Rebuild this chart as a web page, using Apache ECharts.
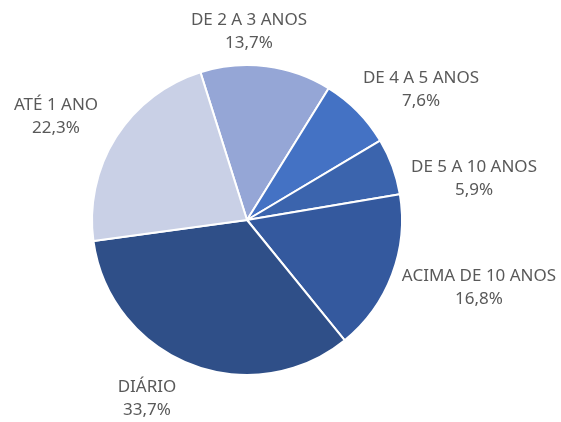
<!DOCTYPE html>
<html><head><meta charset="utf-8">
<script src="https://cdn.jsdelivr.net/npm/echarts@6/dist/echarts.min.js"></script>
<style>html,body{margin:0;padding:0;background:#fff}#c{width:561px;height:422px}</style>
</head><body><div id="c"></div>
<script>
const categories = ['DE 2 A 3 ANOS', 'DE 4 A 5 ANOS', 'DE 5 A 10 ANOS', 'ACIMA DE 10 ANOS', 'DIÁRIO', 'ATÉ 1 ANO'];
const values = [13.7, 7.6, 5.9, 16.8, 33.7, 22.3];
const colors = ['#95a6d6', '#4472c4', '#3b64ad', '#34599e', '#2f4f88', '#c9d0e6'];

// label block centers, offset from the pie centre (layout only)
const PIE_CX = 247, PIE_CY = 220;
const labelOffsets = [[2, -188], [174, -130], [227, -41], [232, 68], [-100, 179], [-191, -103]];

const chart = echarts.init(document.getElementById('c'), null, {renderer: 'canvas'});
chart.setOption({
  animation: false,
  backgroundColor: '#ffffff',
  series: [{
    type: 'pie',
    center: [PIE_CX, PIE_CY],
    radius: 155,
    startAngle: 107.5,
    clockwise: true,
    data: categories.map((n, i) => ({name: n, value: values[i], itemStyle: {color: colors[i]}})),
    itemStyle: {borderColor: '#ffffff', borderWidth: 2},
    label: {
      show: true,
      position: 'outside',
      alignTo: 'none',
      overflow: 'none',
      width: 300,
      formatter: p => p.name + '\n' + p.value.toFixed(1).replace('.', ',') + '%',
      color: '#595959',
      fontFamily: 'Noto Sans',
      fontSize: 17,
      lineHeight: 23,
      align: 'center'
    },
    labelLine: {show: false},
    labelLayout: p => ({
      x: PIE_CX + labelOffsets[p.dataIndex][0],
      y: PIE_CY + labelOffsets[p.dataIndex][1],
      align: 'center',
      verticalAlign: 'middle'
    }),
    emphasis: {disabled: true}
  }]
});
</script></body></html>
